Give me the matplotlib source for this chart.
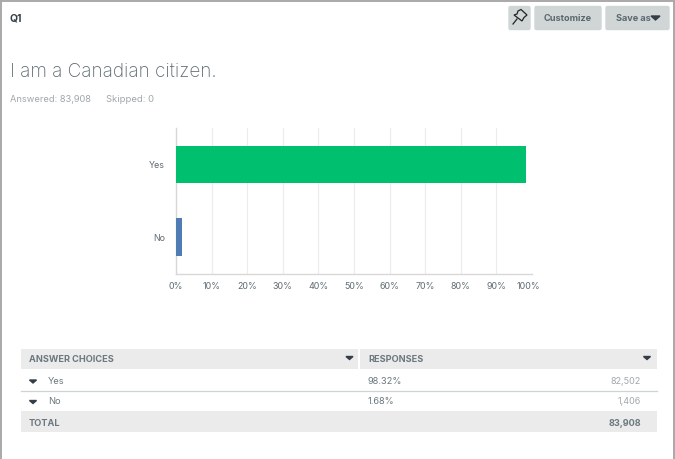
import matplotlib
matplotlib.use('Agg')
import matplotlib.pyplot as plt
from matplotlib.patches import FancyBboxPatch, Rectangle, Polygon
from matplotlib.transforms import ScaledTranslation

plt.rcParams['font.family'] = ['Inter', 'DejaVu Sans']

categories = ['Yes', 'No']
percents = [98.32, 1.68]
counts = ['82,502', '1,406']
pct_labels = ['98.32%', '1.68%']
total = '83,908'
bar_colors = ['#00bf6f', '#507cb6']
ticks = [0, 10, 20, 30, 40, 50, 60, 70, 80, 90, 100]

W, H = 675, 459
fig = plt.figure(figsize=(6.75, 4.59), dpi=100)

# page layer in pixel coords
page = fig.add_axes([0, 0, 1, 1])
page.set_xlim(0, W)
page.set_ylim(H, 0)
page.axis('off')

dark = '#333e48'
grey = '#6b787f'
light = '#a0a8ac'

# frame
page.plot([0.5, 0.5], [459, 1], color='#a9a9a9', lw=1.4)
page.plot([0, 674], [1, 1], color='#a9a9a9', lw=1.4)
page.plot([674, 674], [1, 459], color='#a9a9a9', lw=1.4)

page.text(10, 18, 'Q1', fontsize=7.4, fontweight='bold', color=dark, va='center')
page.text(10, 71.5, 'I am a Canadian citizen.', fontsize=13.6, fontweight='light', color='#5f6b73', va='center')
page.text(10.5, 99, 'Answered: 83,908', fontsize=6.7, color=light, va='center')
page.text(106, 99, 'Skipped: 0', fontsize=6.8, color=light, va='center')


def button(x0, x1, label=None):
    page.add_patch(FancyBboxPatch((x0 + 1, 6.5), x1 - x0 - 2, 23, boxstyle='round,pad=0,rounding_size=1.5',
                                  fc='#d0d6d6', ec='#d0d6d6', lw=1))
    if label:
        page.text((x0 + x1) / 2, 18.5, label, fontsize=6.6, fontweight='bold', color='#5b676e', ha='center', va='center')


button(508, 531)
button(534, 602, 'Customize')
button(605, 670)
page.text(615.5, 18.5, 'Save as', fontsize=6.6, fontweight='bold', color='#5b676e', va='center')
page.add_patch(Polygon([[651, 16], [660, 16], [655.5, 20]], color='#333e48'))

# pin icon
page.add_patch(Polygon([[518, 11], [521, 9.5], [527, 15], [524, 17.5], [522, 21], [514, 15], [517, 14]],
                       fc='none', ec='#222222', lw=0.9))
page.plot([517, 513], [19, 24], color='#222222', lw=0.9)

# table
page.add_patch(Rectangle((21, 348.5), 337, 20, color='#ebebeb', lw=0))
page.add_patch(Rectangle((360, 348.5), 297, 20, color='#ebebeb', lw=0))
page.add_patch(Rectangle((21, 411), 636, 21, color='#ebebeb', lw=0))
page.plot([21, 657], [390.5, 390.5], color='#ccd5d3', lw=0.9)

page.text(29, 360, 'ANSWER CHOICES', fontsize=6.6, fontweight='bold', color=grey, va='center')
page.text(368, 360, 'RESPONSES', fontsize=6.6, fontweight='bold', color=grey, va='center')
page.text(29, 423, 'TOTAL', fontsize=6.6, fontweight='bold', color=grey, va='center')
page.text(641, 423, total, fontsize=6.6, fontweight='bold', color=grey, va='center', ha='right')


def caret(cx, cy):
    page.add_patch(Polygon([[cx - 3.5, cy - 1.5], [cx + 3.5, cy - 1.5], [cx, cy + 1.5]], color=dark))


caret(349.5, 358)
caret(647, 358)
for i, y in enumerate([381.5, 402]):
    caret(33, y)
    page.text(48, y, categories[i], fontsize=6.7, color=grey, va='center')
    page.text(368, y, pct_labels[i], fontsize=6.7, color=grey, va='center')
    page.text(641, y, counts[i], fontsize=6.5, color=light, va='center', ha='right')

# chart, axes box placed to match 0-100% span
x0, x1, y0, y1 = 176, 532, 128, 273.5
ax = fig.add_axes([x0 / W, 1 - y1 / H, (x1 - x0) / W, (y1 - y0) / H])
ax.patch.set_alpha(0)
pos = list(range(len(categories)))
ax.barh(pos, percents, height=0.515, color=bar_colors, zorder=3)
ax.set_xlim(0, 100)
ax.set_ylim(1.5, -0.5)
ax.set_yticks(pos)
ax.set_yticklabels(categories)
ax.set_xticks(ticks)
ax.set_xticklabels([f'{t}%' for t in ticks])
ax.grid(axis='x', color='#ececec', lw=0.8, zorder=0)
ax.tick_params(axis='both', length=0, labelsize=6.4, labelcolor='#5f6b73')
ax.tick_params(axis='x', pad=6)
ax.tick_params(axis='y', pad=8)
# last label sits a bit left of its gridline in the original
last = ax.get_xticklabels()[-1]
last.set_transform(last.get_transform() + ScaledTranslation(-3.5 / 100, 0, fig.dpi_scale_trans))
for side in ['top', 'right']:
    ax.spines[side].set_visible(False)
for side in ['left', 'bottom']:
    ax.spines[side].set_color('#d8d8d8')
    ax.spines[side].set_linewidth(1.0)

fig.savefig('out.png', dpi=100)
